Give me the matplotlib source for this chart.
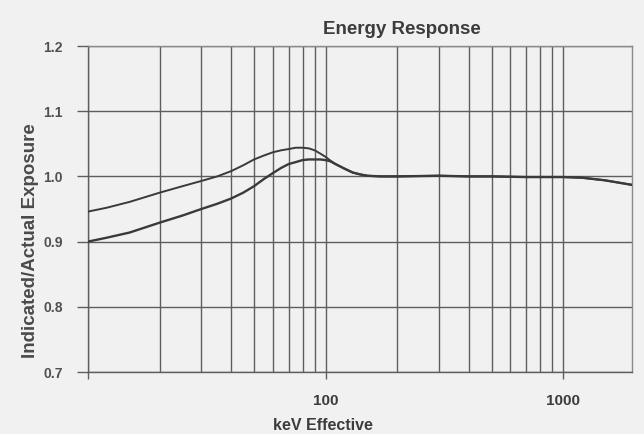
import numpy as np
import matplotlib
matplotlib.use("Agg")
import matplotlib.pyplot as plt
from matplotlib.ticker import LogLocator, FixedLocator, NullFormatter

plt.rcParams["font.family"] = ["Liberation Sans", "DejaVu Sans"]

# energy (keV effective) and the two response curves
kev = [10, 12, 15, 20, 25, 30, 35, 40, 45, 50, 55, 60, 65, 70, 75, 80, 85, 90,
       95, 100, 105, 110, 120, 130, 140, 150, 170, 200, 300, 400, 500, 700,
       1000, 1200, 1500, 1950]
upper = [0.946, 0.952, 0.961, 0.975, 0.985, 0.993, 1.000, 1.008, 1.017, 1.026,
         1.032, 1.037, 1.040, 1.042, 1.044, 1.044, 1.043, 1.040, 1.035, 1.030,
         1.024, 1.019, 1.012, 1.006, 1.003, 1.001, 1.000, 1.000, 1.001, 1.000,
         1.000, 0.999, 0.999, 0.998, 0.994, 0.987]
lower = [0.900, 0.906, 0.914, 0.929, 0.940, 0.950, 0.958, 0.966, 0.975, 0.985,
         0.996, 1.005, 1.013, 1.019, 1.022, 1.025, 1.026, 1.026, 1.026, 1.025,
         1.023, 1.019, 1.012, 1.006, 1.003, 1.001, 1.000, 1.000, 1.001, 1.000,
         1.000, 0.999, 0.999, 0.998, 0.994, 0.987]

x_ticks = [10, 100, 1000]
x_tick_labels = ["", "100", "1000"]
y_ticks = [0.7, 0.8, 0.9, 1.0, 1.1, 1.2]

bg = "#f1f1f1"
ink = "#3a3a3a"
grid_col = "#5e5e5e"

fig = plt.figure(figsize=(6.44, 4.34), dpi=100, facecolor=bg)
ax = fig.add_axes([88 / 644, 1 - 372 / 434, 544 / 644, 326 / 434])
ax.set_facecolor(bg)

ax.plot(kev, upper, color=ink, lw=1.4, zorder=3)
ax.plot(kev, lower, color=ink, lw=1.7, zorder=3)

ax.set_xscale("log")
ax.set_xlim(10, 1950)
ax.set_ylim(0.7, 1.2)

ax.xaxis.set_major_locator(FixedLocator(x_ticks))
ax.set_xticklabels(x_tick_labels)
ax.xaxis.set_minor_locator(LogLocator(base=10, subs=np.arange(2, 10)))
ax.xaxis.set_minor_formatter(NullFormatter())
ax.set_yticks(y_ticks)
ax.set_yticklabels([f"{v:.1f}" for v in y_ticks])

ax.grid(which="both", axis="x", color=grid_col, lw=1.0)
ax.grid(which="major", axis="y", color=grid_col, lw=1.0)
ax.set_axisbelow(True)

ax.tick_params(axis="x", which="major", length=5, width=1, color=grid_col,
               pad=11, labelsize=11, labelcolor="#3c3c3c")
ax.tick_params(axis="x", which="minor", length=0)
ax.tick_params(axis="y", length=8, width=1, color=grid_col, pad=10,
               labelsize=10, labelcolor="#505050")
for lab in ax.get_xticklabels() + ax.get_yticklabels():
    lab.set_fontweight("bold")

for side in ["left", "bottom"]:
    ax.spines[side].set_color(grid_col)
    ax.spines[side].set_linewidth(1.0)
for side in ["top", "right"]:
    ax.spines[side].set_color("#8a8a8a")
    ax.spines[side].set_linewidth(1.0)

ax.set_xlabel("keV Effective", fontsize=11.5, fontweight="bold", color="#3c3c3c")
ax.xaxis.set_label_coords((323 - 88) / 544, (372 - 425) / 326)
ax.xaxis.label.set_va("center")

ax.set_ylabel("Indicated/Actual Exposure", fontsize=13.5, fontweight="bold",
              color="#4a4a4a")
ax.yaxis.set_label_coords((31 - 88) / 544, (372 - 241) / 326)
ax.yaxis.label.set_va("center")

fig.text(402 / 644, 1 - 30 / 434, "Energy Response", ha="center", va="center",
         fontsize=13.5, fontweight="bold", color="#3c3c3c")

fig.savefig("out.png", dpi=100, facecolor=bg)
